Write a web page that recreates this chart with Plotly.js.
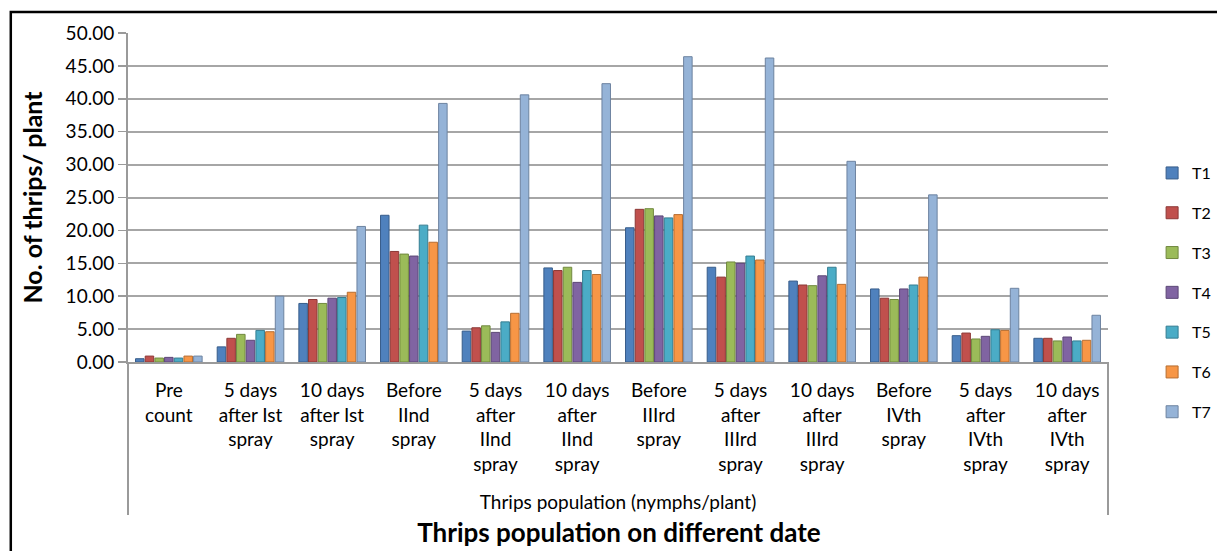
<!DOCTYPE html>
<html>
<head>
<meta charset="utf-8">
<script src="https://cdn.plot.ly/plotly-3.0.1.min.js"></script>
<style>html,body{margin:0;padding:0;background:#fff;}#chart{width:1217px;height:551px;}</style>
</head>
<body>
<div id="chart"></div>
<script>
const categories = [
  "Pre<br>count",
  "5 days<br>after Ist<br>spray",
  "10 days<br>after Ist<br>spray",
  "Before<br>IInd<br>spray",
  "5 days<br>after<br>IInd<br>spray",
  "10 days<br>after<br>IInd<br>spray",
  "Before<br>IIIrd<br>spray",
  "5 days<br>after<br>IIIrd<br>spray",
  "10 days<br>after<br>IIIrd<br>spray",
  "Before<br>IVth<br>spray",
  "5 days<br>after<br>IVth<br>spray",
  "10 days<br>after<br>IVth<br>spray"
];
const seriesNames = ["T1","T2","T3","T4","T5","T6","T7"];
const T1 = [0.5, 2.3,  8.9, 22.3, 4.7, 14.3, 20.4, 14.4, 12.3, 11.1, 4.0, 3.6];
const T2 = [0.9, 3.6,  9.5, 16.8, 5.2, 13.9, 23.2, 12.9, 11.7,  9.7, 4.4, 3.6];
const T3 = [0.6, 4.2,  8.9, 16.4, 5.5, 14.4, 23.3, 15.2, 11.6,  9.5, 3.5, 3.2];
const T4 = [0.7, 3.3,  9.7, 16.1, 4.5, 12.1, 22.2, 15.0, 13.1, 11.1, 3.9, 3.8];
const T5 = [0.6, 4.8,  9.8, 20.8, 6.1, 13.9, 21.9, 16.1, 14.4, 11.7, 4.9, 3.2];
const T6 = [0.9, 4.6, 10.6, 18.2, 7.4, 13.3, 22.4, 15.5, 11.8, 12.9, 4.8, 3.3];
const T7 = [0.9, 10.0, 20.6, 39.3, 40.6, 42.3, 46.4, 46.2, 30.5, 25.4, 11.2, 7.1];
const seriesValues = [T1,T2,T3,T4,T5,T6,T7];
const colors = ["#4F81BD","#C0504D","#9BBB59","#8064A2","#4BACC6","#F79646","#95B3D7"];
const lineColors = ["#385D8A","#8C3836","#71893F","#5C4776","#357D91","#B66D31","#6D83A0"];
const yTickVals = [0,5,10,15,20,25,30,35,40,45,50];

const FONT = "Lato, 'Noto Sans', sans-serif";
const traces = seriesValues.map((vals, i) => ({
  type: "bar",
  name: seriesNames[i],
  x: categories,
  y: vals,
  legendgroup: seriesNames[i],
  marker: {color: colors[i], line: {color: lineColors[i], width: 1}},
  hoverinfo: "x+y+name"
}));

const layout = {
  width: 1217, height: 551,
  margin: {l: 128, r: 109, t: 33, b: 189, autoexpand: false},
  paper_bgcolor: "#ffffff", plot_bgcolor: "#ffffff",
  font: {family: FONT, color: "#000000", size: 18},
  barmode: "group",
  bargap: 0.17,
  bargroupgap: 0.12,
  title: {
    text: "<b>Thrips population on different date</b>",
    font: {family: FONT, size: 26, color: "#000000"},
    x: 0.501, xanchor: "center", xref: "paper",
    y: 0.033, yanchor: "middle", yref: "container"
  },
  xaxis: {
    type: "category",
    showgrid: false,
    showline: true, linecolor: "#9a9a9a", linewidth: 2,
    ticks: "",
    ticklabelstandoff: 10,
    tickfont: {family: FONT, size: 19, color: "#000000"},
    automargin: false,
    title: {text: "Thrips population (nymphs/plant)", font: {family: FONT, size: 19, color: "#000000"}, standoff: 22}
  },
  yaxis: {
    range: [0, 50],
    tickvals: yTickVals,
    tickformat: ".2f",
    showgrid: true, gridcolor: "#a6a6a6", gridwidth: 2,
    zeroline: false,
    showline: true, linecolor: "#9a9a9a", linewidth: 2,
    ticks: "outside", ticklen: 8, tickcolor: "#9a9a9a", tickwidth: 1.5,
    tickfont: {family: FONT, size: 19, color: "#000000"},
    automargin: false,
    title: {text: "<b>No. of thrips/ plant</b>", font: {family: FONT, size: 25, color: "#000000"}, standoff: 16}
  },
  legend: {
    x: 1.045, xanchor: "left", y: 0.626, yanchor: "top",
    font: {family: FONT, size: 16, color: "#000000"},
    tracegroupgap: 16, itemwidth: 30,
    bgcolor: "rgba(0,0,0,0)"
  },
  shapes: [
    {type: "rect", xref: "paper", yref: "paper", x0: -0.1196, x1: 1.14, y0: -0.62, y1: 1.064,
     line: {color: "#000000", width: 2.5}, fillcolor: "rgba(0,0,0,0)", layer: "below"},
    {type: "line", xref: "paper", yref: "paper", x0: 0, x1: 0, y0: 0, y1: -0.465,
     line: {color: "#9a9a9a", width: 2}},
    {type: "line", xref: "paper", yref: "paper", x0: 1, x1: 1, y0: 0, y1: -0.465,
     line: {color: "#9a9a9a", width: 2}}
  ]
};

Plotly.newPlot("chart", traces, layout, {displayModeBar: false, staticPlot: true});
</script>
</body>
</html>
